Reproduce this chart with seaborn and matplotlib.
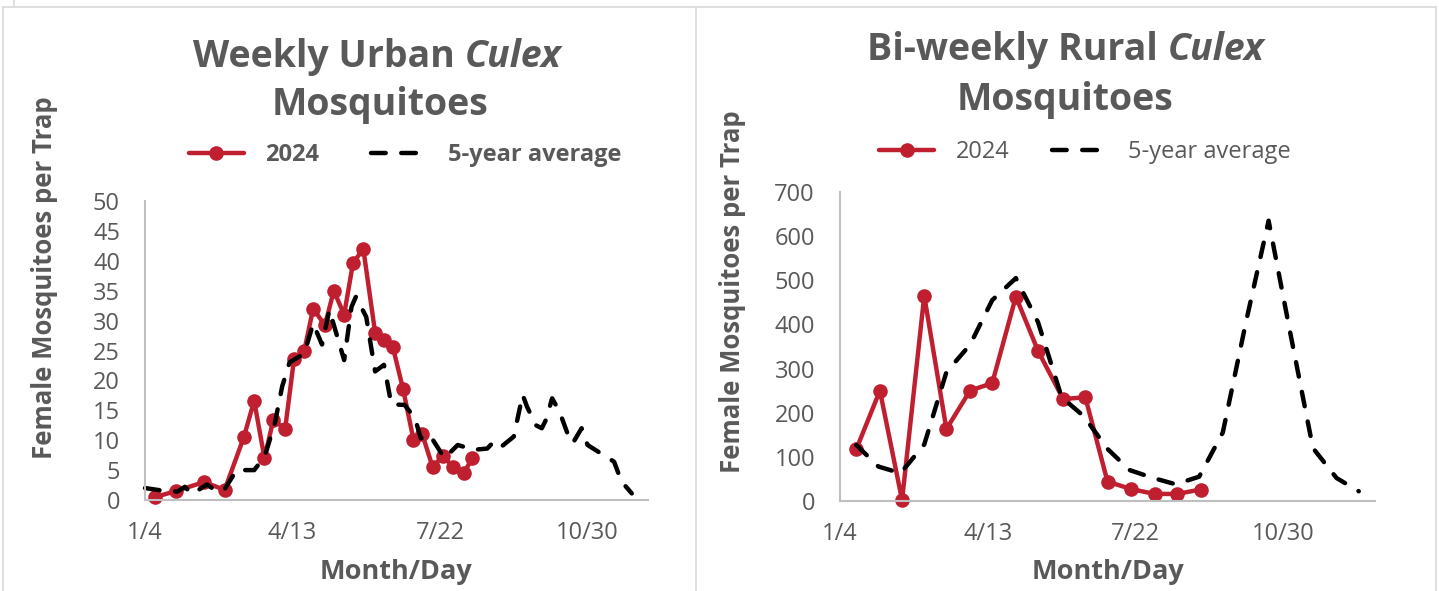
import matplotlib
matplotlib.use("Agg")
import pandas as pd
import seaborn as sns
import matplotlib.pyplot as plt
from matplotlib.lines import Line2D

# ---- data (x = day of year 2024) ----
tick_days = [4, 104, 204, 304]
tick_labels = ["1/4", "4/13", "7/22", "10/30"]

urban_days = [11, 25, 44, 58, 71, 78, 85, 91, 99, 105, 112, 118, 126, 132,
              139, 145, 152, 160, 166, 172, 179, 186, 192, 199, 206, 213, 220, 226]
urban_2024 = [0.5, 1.5, 3.0, 1.7, 10.5, 16.6, 7.0, 13.4, 11.9, 23.5, 25.0, 32.0, 29.2, 35.0,
              31.0, 39.6, 42.0, 28.0, 26.8, 25.6, 18.5, 10.1, 11.0, 5.5, 7.4, 5.5, 4.5, 7.0]

urban_avg_days = [4, 15, 26, 31, 36, 46, 53, 58, 66, 78, 85, 92, 97, 102, 112, 118, 124,
                  129, 139, 144, 147, 154, 160, 166, 171, 180, 187, 191, 197, 207, 216,
                  227, 236, 241, 246, 254, 260, 263, 269, 273, 276, 280, 285, 290, 294,
                  300, 304, 313, 322, 327, 334]
urban_avg = [2.0, 1.6, 1.4, 2.2, 1.0, 2.6, 1.4, 1.8, 5.0, 5.0, 7.2, 12.8, 19.0, 23.0, 24.5,
             29.5, 26.0, 31.8, 23.4, 32.3, 34.0, 30.6, 21.5, 22.6, 16.0, 15.9, 13.7, 10.3,
             10.9, 7.0, 9.2, 8.4, 8.6, 9.9, 9.0, 10.6, 17.6, 15.6, 12.5, 12.0, 13.5, 17.0,
             14.8, 11.4, 9.5, 12.0, 9.2, 7.8, 6.4, 3.1, 1.1]

rural_days = [15, 31, 46, 61, 76, 92, 107, 123, 138, 155, 170, 185, 201, 217, 232, 248]
rural_2024 = [117, 250, 2, 465, 163, 250, 267, 463, 340, 231, 235, 44, 27, 16, 16, 26]

rural_avg_days = [15, 30, 45, 61, 76, 92, 107, 123, 138, 154, 169, 185, 200, 216, 231,
                  247, 263, 279, 294, 309, 324, 340, 355]
rural_avg = [127, 78, 63, 128, 292, 354, 455, 505, 405, 235, 192, 118, 70, 52, 38,
             55, 155, 410, 635, 375, 120, 52, 22]

RED = "#C01F30"
GRAY = "#595959"
AXIS = "#BFBFBF"
W, H = 1439, 591

sns.set_style("white")
plt.rcParams["font.family"] = ["Open Sans", "DejaVu Sans"]

fig = plt.figure(figsize=(W / 100, H / 100), dpi=100)

# panel frames
for xs, ys in [([2.5, 2.5], [7, H]), ([2.5, 1435.5], [7, 7]), ([696, 696], [7, H]),
               ([1435.5, 1435.5], [7, H]), ([14, 14], [0, 7])]:
    fig.add_artist(Line2D([x / W for x in xs], [1 - y / H for y in ys],
                          color="#D9D9D9", lw=1.2))

LW = 3.2
DASH = (3.3, 3.5)
MS = 10.5


def draw_panel(rect, days, vals, avg_days, avg, xmax, ymax, ystep):
    ax = fig.add_axes(rect)
    sns.lineplot(x=days, y=vals, ax=ax, color=RED, linewidth=LW, marker="o",
                 markersize=MS, markeredgewidth=0, sort=False, clip_on=False)
    sns.lineplot(x=avg_days, y=avg, ax=ax, color="black", linewidth=LW,
                 sort=False, clip_on=False)
    red_line, avg_line = ax.lines[0], ax.lines[1]
    red_line.set_solid_capstyle("round")
    red_line.set_solid_joinstyle("round")
    avg_line.set_dashes(DASH)
    avg_line.set_dash_capstyle("round")
    avg_line.set_dash_joinstyle("round")
    ax.set_xlim(4, xmax)
    ax.set_ylim(0, ymax)
    ax.set_xticks(tick_days)
    ax.set_xticklabels(tick_labels)
    ax.set_yticks(range(0, ymax + 1, ystep))
    ax.tick_params(axis="both", length=0, labelsize=17, labelcolor=GRAY)
    ax.tick_params(axis="y", pad=18)
    ax.tick_params(axis="x", pad=15)
    for side in ["top", "right"]:
        ax.spines[side].set_visible(False)
    for side in ["left", "bottom"]:
        ax.spines[side].set_color(AXIS)
        ax.spines[side].set_linewidth(1.5)
    ax.set_xlabel("")
    ax.set_ylabel("")
    ax.grid(False)
    return ax


ax1 = draw_panel([145 / W, 1 - 500 / H, (648 - 145) / W, (500 - 201) / H],
                 urban_days, urban_2024, urban_avg_days, urban_avg, 345, 50, 5)
ax2 = draw_panel([840 / W, 1 - 501 / H, (1375 - 840) / W, (501 - 192) / H],
                 rural_days, rural_2024, rural_avg_days, rural_avg, 366, 700, 100)

renderer = fig.canvas.get_renderer()


def title_line(parts, xc, y, size=27):
    texts = []
    for s, style in parts:
        texts.append(fig.text(0, 1 - y / H, s, fontsize=size, fontweight="bold",
                              style=style, color=GRAY, va="center", ha="left"))
    widths = [t.get_window_extent(renderer).width for t in texts]
    x = xc - sum(widths) / 2
    for t, w in zip(texts, widths):
        t.set_x(x / W)
        x += w


title_line([("Weekly Urban ", "normal"), ("Culex", "italic")], 377, 57)
title_line([("Mosquitoes", "normal")], 380, 105)
title_line([("Bi-weekly Rural ", "normal"), ("Culex", "italic")], 1066, 50)
title_line([("Mosquitoes", "normal")], 1065, 100)

# axis labels
fig.text(45 / W, 1 - 278 / H, "Female Mosquitoes per Trap", rotation=90, fontsize=18.5,
         fontweight="bold", color=GRAY, ha="center", va="center")
fig.text(732 / W, 1 - 292 / H, "Female Mosquitoes per Trap", rotation=90, fontsize=18.5,
         fontweight="bold", color=GRAY, ha="center", va="center")
fig.text(396 / W, 1 - 572 / H, "Month/Day", fontsize=19.5, fontweight="bold",
         color=GRAY, ha="center", va="center")
fig.text(1108 / W, 1 - 572 / H, "Month/Day", fontsize=19.5, fontweight="bold",
         color=GRAY, ha="center", va="center")

# legends
handles = [Line2D([], [], color=RED, lw=LW, marker="o", ms=MS, mew=0),
           Line2D([], [], color="black", lw=LW, dashes=DASH, dash_capstyle="round")]
for xc, y, weight, cs in [(405, 155, "bold", 2.2), (1085, 152, "normal", 1.8)]:
    leg = fig.legend(handles, ["2024", "5-year average"], loc="center",
                     bbox_to_anchor=(xc / W, 1 - y / H), ncol=2, frameon=False,
                     handlelength=2.35, handletextpad=0.9, columnspacing=cs,
                     prop={"size": 17, "weight": weight})
    for t in leg.get_texts():
        t.set_color(GRAY)

fig.savefig("out.png", dpi=100)
